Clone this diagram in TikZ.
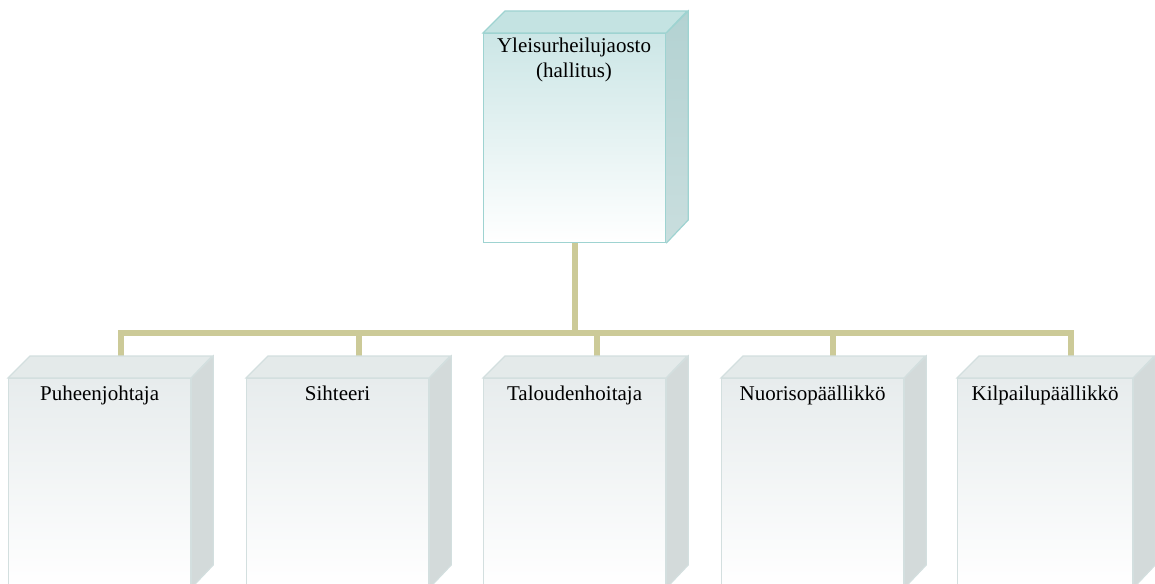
\documentclass[tikz,border=0pt]{standalone}
\usepackage{fontspec}
\setmainfont{Liberation Serif}
\definecolor{tborder}{HTML}{9ED3D1}
\definecolor{tfill}{HTML}{CCE6E6}
\definecolor{ttop}{HTML}{C4E3E2}
\definecolor{tside}{HTML}{B3D2D2}
\definecolor{tside2}{HTML}{C9DEDE}
\definecolor{cborder}{HTML}{D3DFDF}
\definecolor{cfill}{HTML}{E7ECED}
\definecolor{ctop}{HTML}{E4EAEA}
\definecolor{cside}{HTML}{D3DADA}
\definecolor{conn}{HTML}{CCCA98}
\begin{document}
\begin{tikzpicture}[x=1pt,y=-1pt,
  boxfront/.style={inner sep=0pt, anchor=north west, minimum height=209pt},
  topfront/.style={boxfront, draw=tborder, line width=1.2pt, top color=tfill, bottom color=white, minimum width=182pt},
  childfront/.style={boxfront, draw=cborder, line width=1.2pt, top color=cfill, bottom color=white},
  lbl/.style={font=\fontsize{21}{25}\selectfont, inner sep=0pt, anchor=base},
  connline/.style={draw=conn, line width=6pt}]
\useasboundingbox (0,0) rectangle (1155,583);
% connectors
\coordinate (bus) at (575,333);
\coordinate (d1) at (121,356);
\coordinate (d2) at (359,356);
\coordinate (d3) at (597,356);
\coordinate (d4) at (833,356);
\coordinate (d5) at (1071,356);
\coordinate (bl) at (118,333);
\coordinate (br) at (1074,333);
\draw[connline] (575,242) -- (bus);
\draw[connline] (bl) -- (br);
\foreach \d in {d1,d2,d3,d4,d5}{\draw[connline] (\d |- bus) -- (\d);}
% top box
\node[topfront] (top) at (483,33) {};
\filldraw[fill=ttop, draw=tborder, line width=1.2pt] (top.north west) -- ++(22,-22) -- ++(182,0) -- (top.north east) -- cycle;
\shade[top color=tside, bottom color=tside2] (top.north east) -- ++(22,-22) -- ++(0,209) -- (top.south east) -- cycle;
\draw[tborder, line width=1.2pt] (top.north east) -- ++(22,-22) -- ++(0,209) -- (top.south east);
\node[lbl, anchor=base] (toptext1) at (574,53) {Yleisurheilujaosto};
\node[lbl, anchor=base] (toptext2) at (574,78) {(hallitus)};
% child boxes
\foreach \n/\x/\w/\t in {c1/8/182/Puheenjohtaja, c2/246/182/Sihteeri, c3/483/182/Taloudenhoitaja, c4/721/182/Nuorisopäällikkö, c5/957/175/Kilpailupäällikkö}{
  \node[childfront, minimum width=\w pt] (\n) at (\x,378) {};
  \filldraw[fill=ctop, draw=cborder, line width=1.2pt] (\n.north west) -- ++(22,-22) -- ++(\w,0) -- (\n.north east) -- cycle;
  \filldraw[fill=cside, draw=cborder, line width=1.2pt] (\n.north east) -- ++(22,-22) -- ++(0,209) -- (\n.south east) -- cycle;
  \node[lbl] (\n t) at ([yshift=-22pt]\n.north) {\t};
}
\end{tikzpicture}
\end{document}
